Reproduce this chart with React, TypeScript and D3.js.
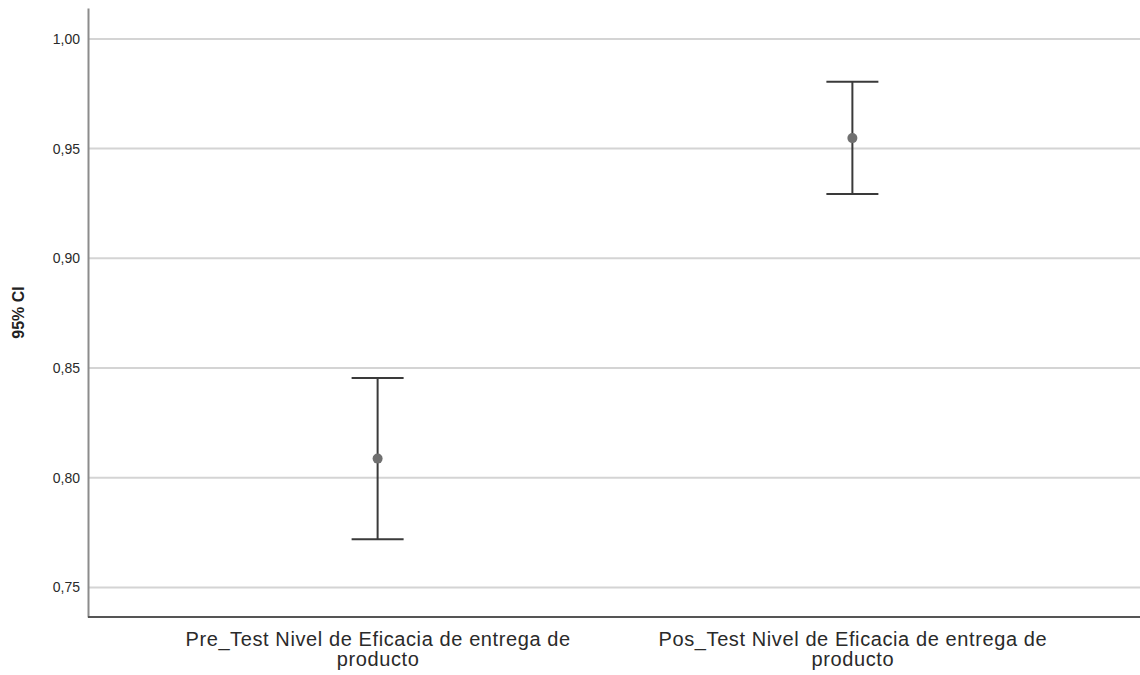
import React, { useEffect, useRef } from 'react';
import * as d3 from 'd3';

// values (95% CI of the mean)
const categories = [
  'Pre_Test Nivel de Eficacia de entrega de producto',
  'Pos_Test Nivel de Eficacia de entrega de producto',
];
const means = [0.8087, 0.9548];
const lowers = [0.7719, 0.9293];
const uppers = [0.8454, 0.9805];
const yTicks = [0.75, 0.8, 0.85, 0.9, 0.95, 1.0];

const W = 1140;
const H = 675;
const margin = { top: 8, right: 0, bottom: 58, left: 88 };

function wrap(sel: any, width: number, lineH: number) {
  sel.each(function (this: SVGTextElement) {
    const text = d3.select(this);
    const words = text.text().split(/\s+/);
    const x = text.attr('x');
    const y = text.attr('y');
    text.text(null);
    let line: string[] = [];
    let lineNo = 0;
    let tspan = text.append('tspan').attr('x', x).attr('y', y).attr('dy', 0);
    words.forEach((w) => {
      line.push(w);
      tspan.text(line.join(' '));
      if ((tspan.node() as SVGTSpanElement).getComputedTextLength() > width && line.length > 1) {
        line.pop();
        tspan.text(line.join(' '));
        line = [w];
        lineNo++;
        tspan = text.append('tspan').attr('x', x).attr('y', y).attr('dy', lineNo * lineH).text(w);
      }
    });
  });
}

export default function App() {
  const ref = useRef<SVGSVGElement>(null);

  useEffect(() => {
    const svg = d3.select(ref.current);
    svg.selectAll('*').remove();

    const x = d3.scalePoint<string>()
      .domain(categories)
      .range([margin.left, W - margin.right + 2])
      .padding(0.61);

    const y = d3.scaleLinear()
      .domain([0.7365, 1.0141])
      .range([H - margin.bottom, margin.top]);

    // gridlines
    svg.append('g')
      .selectAll('line')
      .data(yTicks)
      .enter()
      .append('line')
      .attr('x1', margin.left)
      .attr('x2', W)
      .attr('y1', (d) => y(d))
      .attr('y2', (d) => y(d))
      .attr('stroke', '#d4d4d4')
      .attr('stroke-width', 2);

    // y axis
    const yAxis = svg.append('g')
      .attr('transform', `translate(${margin.left},0)`)
      .call(d3.axisLeft(y).tickValues(yTicks).tickSize(0).tickPadding(8)
        .tickFormat((d) => d3.format('.2f')(d as number).replace('.', ',')));
    yAxis.select('.domain').attr('stroke', '#8c8c8c').attr('stroke-width', 2);
    yAxis.selectAll('text')
      .attr('font-family', 'Liberation Sans, Arial, sans-serif')
      .attr('font-size', 14)
      .attr('fill', '#2a2a2a');

    // x axis
    const xAxis = svg.append('g')
      .attr('transform', `translate(0,${H - margin.bottom})`)
      .call(d3.axisBottom(x).tickSize(0).tickPadding(0));
    xAxis.select('.domain')
      .attr('d', `M${margin.left},0H${W}`)
      .attr('stroke', '#555')
      .attr('stroke-width', 2);
    xAxis.selectAll('text')
      .attr('font-family', 'Liberation Sans, Arial, sans-serif')
      .attr('font-size', 20)
      .attr('letter-spacing', 0.6)
      .attr('fill', '#2a2a2a')
      .attr('y', 29)
      .attr('dy', 0)
      .attr('x', 0)
      .call(wrap, 420, 20);

    // y title
    svg.append('text')
      .attr('transform', `translate(24,${(margin.top + H - margin.bottom) / 2}) rotate(-90)`)
      .attr('text-anchor', 'middle')
      .attr('font-family', 'Liberation Sans, Arial, sans-serif')
      .attr('font-weight', 'bold')
      .attr('font-size', 16)
      .attr('fill', '#222')
      .text('95% CI');

    // error bars
    const g = svg.append('g');
    const capW = 26;
    categories.forEach((c, i) => {
      const cx = x(c) as number;
      g.append('line')
        .attr('x1', cx).attr('x2', cx)
        .attr('y1', y(uppers[i])).attr('y2', y(lowers[i]))
        .attr('stroke', '#3a3a3a').attr('stroke-width', 2);
      [uppers[i], lowers[i]].forEach((v) => {
        g.append('line')
          .attr('x1', cx - capW).attr('x2', cx + capW)
          .attr('y1', y(v)).attr('y2', y(v))
          .attr('stroke', '#3a3a3a').attr('stroke-width', 2);
      });
      g.append('circle')
        .attr('cx', cx)
        .attr('cy', y(means[i]))
        .attr('r', 5)
        .attr('fill', '#707070');
    });
  }, []);

  return (
    <svg ref={ref} width={W} height={H}
      style={{ position: 'absolute', left: 0, top: 0, background: '#fff' }} />
  );
}
